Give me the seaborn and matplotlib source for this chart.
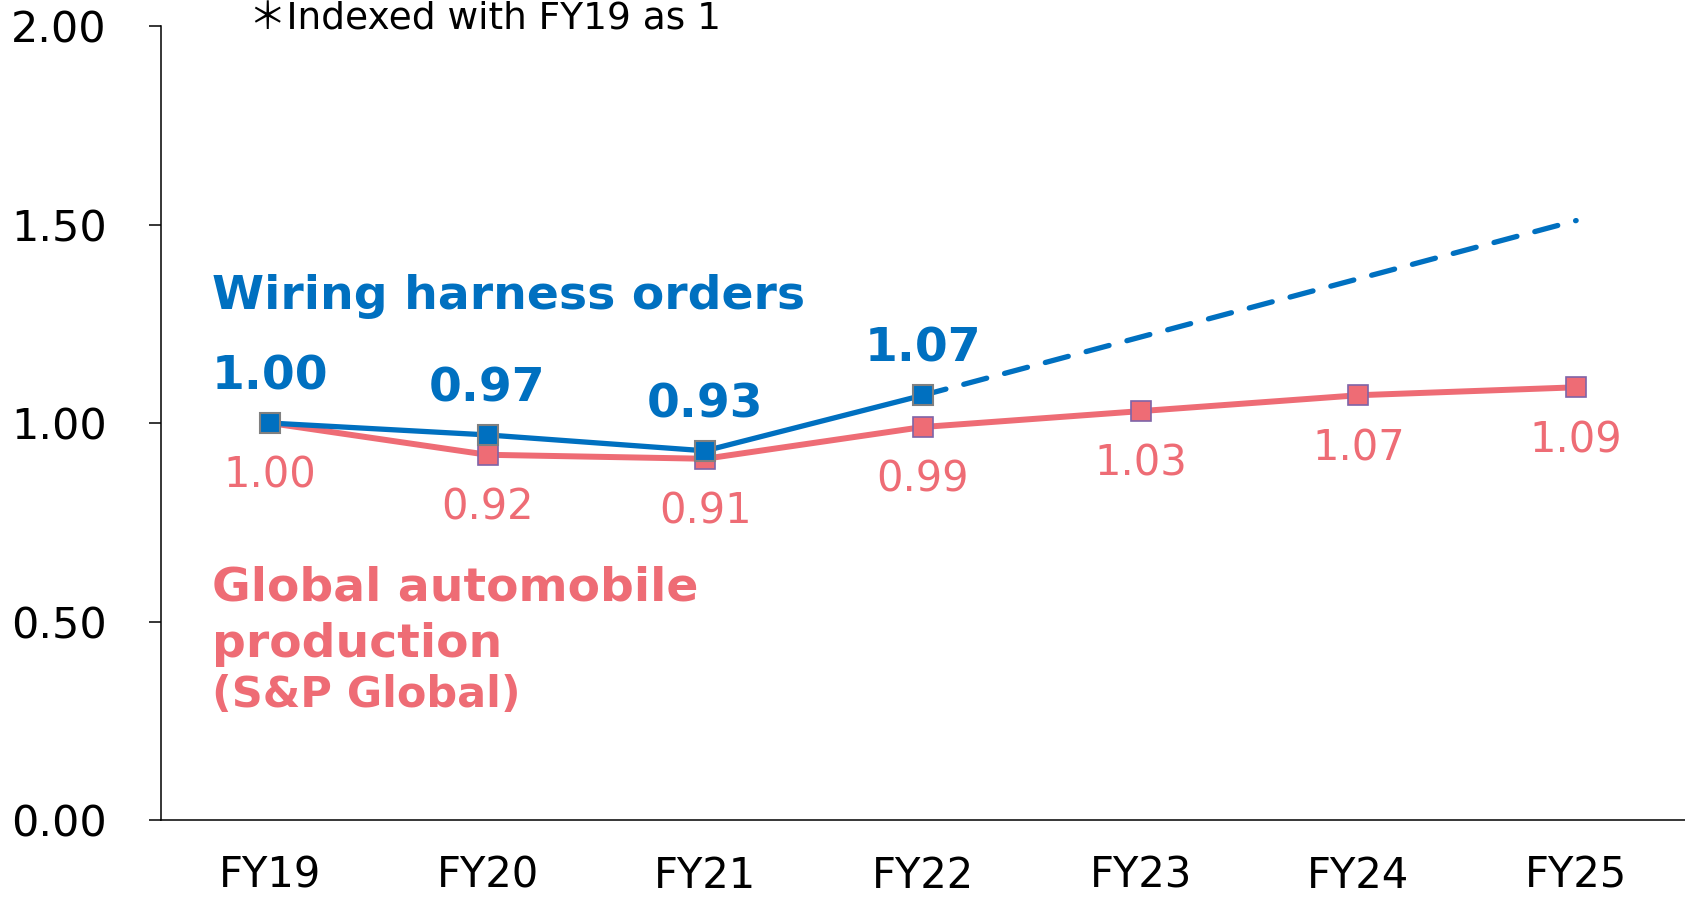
import pandas as pd
import seaborn as sns
import matplotlib.pyplot as plt

# data
years = ['FY19', 'FY20', 'FY21', 'FY22', 'FY23', 'FY24', 'FY25']
harness_years = ['FY19', 'FY20', 'FY21', 'FY22']
harness_orders = [1.00, 0.97, 0.93, 1.07]
forecast_years = ['FY22', 'FY25']
forecast_orders = [1.07, 1.51]
auto_production = [1.00, 0.92, 0.91, 0.99, 1.03, 1.07, 1.09]
y_ticks = [0.0, 0.5, 1.0, 1.5, 2.0]

BLUE = '#0070C0'
RED = '#EE6C75'

sns.set_style('white')
plt.rcParams['font.family'] = ['DejaVu Sans', 'Noto Sans CJK JP']

prod_df = pd.DataFrame({'year': years, 'value': auto_production})
harness_df = pd.DataFrame({'year': harness_years, 'value': harness_orders})
forecast_df = pd.DataFrame({'year': forecast_years, 'value': forecast_orders})

fig = plt.figure(figsize=(16.85, 8.97), dpi=100)
ax = fig.add_axes([0.0955, 0.0858, 0.9045, 0.8852])

sns.lineplot(data=prod_df, x='year', y='value', ax=ax, color=RED, lw=4.3,
             marker='s', markersize=15, markeredgecolor='#7E64A8',
             markeredgewidth=1.2, sort=False, zorder=2)
sns.lineplot(data=forecast_df, x='year', y='value', ax=ax, color=BLUE, lw=3.8,
             linestyle=(0, (4.5, 3.5)), dash_capstyle='round', sort=False, zorder=3)
sns.lineplot(data=harness_df, x='year', y='value', ax=ax, color=BLUE, lw=3.8,
             marker='s', markersize=15, markeredgecolor='#808080',
             markeredgewidth=1.5, sort=False, zorder=4)

for yr, v in zip(harness_years, harness_orders):
    ax.annotate(f'{v:.2f}', xy=(yr, v), xytext=(0, 33), textcoords='offset points',
                ha='center', va='center', fontsize=34, fontweight='bold', color=BLUE)
for yr, v in zip(years, auto_production):
    ax.annotate(f'{v:.2f}', xy=(yr, v), xytext=(0, -38), textcoords='offset points',
                ha='center', va='center', fontsize=30, color=RED)

ax.text(-0.266, 1.318, 'Wiring harness orders', fontsize=34, fontweight='bold',
        color=BLUE, ha='left', va='center')
ax.text(-0.266, 0.585, 'Global automobile', fontsize=34, fontweight='bold',
        color=RED, ha='left', va='center')
ax.text(-0.266, 0.442, 'production', fontsize=34, fontweight='bold',
        color=RED, ha='left', va='center')
ax.text(-0.266, 0.316, '(S&P Global)', fontsize=31, fontweight='bold',
        color=RED, ha='left', va='center')
ax.text(-0.094, 2.016, '＊Indexed with FY19 as 1', fontsize=27, color='black',
        ha='left', va='center', clip_on=False)

ax.set_xlim(-0.5, 6.5)
ax.set_ylim(0, 2.0)
ax.set_yticks(y_ticks)
ax.set_yticklabels([f'{t:.2f}' for t in y_ticks])
ax.set_xlabel('')
ax.set_ylabel('')
ax.tick_params(axis='y', length=9, width=1.1, direction='out', pad=30,
               labelsize=31, left=True, labelcolor='black', color='black')
ax.tick_params(axis='x', length=0, pad=25, labelsize=30, labelcolor='black')
for side in ['top', 'right']:
    ax.spines[side].set_visible(False)
for side in ['left', 'bottom']:
    ax.spines[side].set_color('black')
    ax.spines[side].set_linewidth(1.1)

fig.savefig('out.png', dpi=100)
